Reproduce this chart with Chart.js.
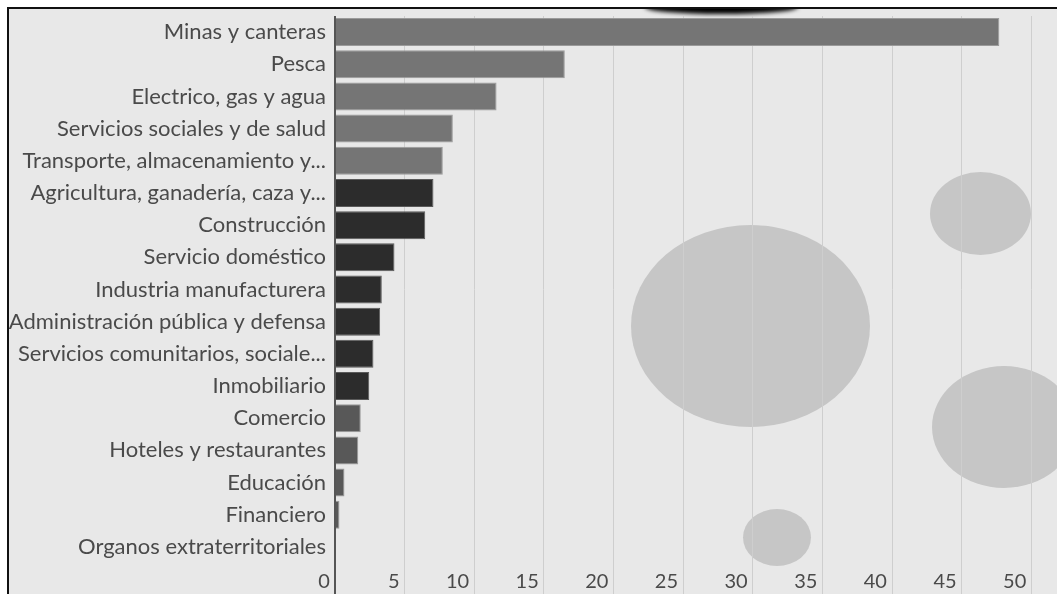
<!DOCTYPE html>
<html>
<head>
<meta charset="utf-8">
<script src="https://cdn.jsdelivr.net/npm/chart.js@4.4.1/dist/chart.umd.min.js"></script>
<style>
    html, body { margin: 0; padding: 0; background: #fff; overflow: hidden; }
    body { width: 1057px; height: 594px; position: relative; }
    .panel {
        position: absolute; left: 7px; top: 7px; width: 1100px; height: 640px;
        border-left: 2px solid #111; border-top: 2px solid #111;
        background: #e8e8e8; overflow: hidden;
    }
    .blob { position: absolute; border-radius: 50%; background: #c6c6c6; }
    .shadow {
        position: absolute; left: 636px; top: -9px; width: 153px; height: 14px;
        border-radius: 50%; background: #000; filter: blur(2px);
    }
    .chart-wrap { position: absolute; left: 0; top: 0; width: 1092px; height: 600px; }
</style>
</head>
<body>
<div class="panel">
    <div class="blob" style="left:921px; top:163px; width:101px; height:83px;"></div>
    <div class="blob" style="left:622px; top:216px; width:239px; height:202px;"></div>
    <div class="blob" style="left:923px; top:357px; width:144px; height:122px;"></div>
    <div class="blob" style="left:734px; top:500px; width:68px; height:57px;"></div>
    <div class="shadow"></div>
    <div class="chart-wrap"><canvas id="sectorChart"></canvas></div>
</div>
<script>
const sectors = [
    'Minas y canteras',
    'Pesca',
    'Electrico, gas y agua',
    'Servicios sociales y de salud',
    'Transporte, almacenamiento y...',
    'Agricultura, ganadería, caza y...',
    'Construcción',
    'Servicio doméstico',
    'Industria manufacturera',
    'Administración pública y defensa',
    'Servicios comunitarios, sociale...',
    'Inmobiliario',
    'Comercio',
    'Hoteles y restaurantes',
    'Educación',
    'Financiero',
    'Organos extraterritoriales',
];
const values = [47.7, 16.5, 11.6, 8.46, 7.74, 7.07, 6.48, 4.27, 3.36, 3.24, 2.76, 2.46, 1.85, 1.67, 0.68, 0.32, 0];
const xTicks = [0, 5, 10, 15, 20, 25, 30, 35, 40, 45, 50, 55];

// three shades, by group
const barColors = [
    '#757575', '#757575', '#757575', '#757575', '#757575',
    '#2c2c2c', '#2c2c2c', '#2c2c2c', '#2c2c2c', '#2c2c2c', '#2c2c2c', '#2c2c2c',
    '#585858', '#585858', '#585858', '#585858', '#585858',
];
const barBorders = barColors.map((c) => (c === '#2c2c2c' ? '#5a5a5a' : '#9a9a9a'));

new Chart(document.getElementById('sectorChart'), {
    type: 'bar',
    data: {
        labels: sectors,
        datasets: [
            {
                data: values,
                backgroundColor: barColors,
                borderColor: barBorders,
                borderWidth: 1,
                barPercentage: 0.87,
                categoryPercentage: 1,
            },
        ],
    },
    options: {
        indexAxis: 'y',
        responsive: true,
        maintainAspectRatio: false,
        animation: false,
        layout: { padding: { top: 7, left: 0, right: 0, bottom: 0 } },
        plugins: { legend: { display: false }, tooltip: { enabled: false } },
        scales: {
            x: {
                min: xTicks[0],
                max: xTicks[xTicks.length - 1],
                afterBuildTicks: (scale) => {
                    scale.ticks = xTicks.map((v) => ({ value: v }));
                },
                afterFit: (scale) => {
                    scale.height = 46;
                },
                border: { display: false },
                grid: {
                    color: (ctx) => (ctx.tick && ctx.tick.value === 0 ? '#555' : '#cecece'),
                    lineWidth: (ctx) => (ctx.tick && ctx.tick.value === 0 ? 2 : 1),
                    tickLength: 45,
                },
                ticks: {
                    align: 'end',
                    padding: -38,
                    color: '#4a4a4a',
                    font: { family: 'Lato', size: 20 },
                    callback: (v) => v + ' ',
                },
            },
            y: {
                afterFit: (scale) => {
                    scale.width = 326;
                    scale.paddingTop = 0;
                    scale.paddingBottom = 0;
                },
                border: { display: false },
                grid: { display: false, drawTicks: false },
                ticks: {
                    padding: 9,
                    color: '#4a4a4a',
                    font: { family: 'Lato', size: 22 },
                    autoSkip: false,
                },
            },
        },
    },
});
</script>
</body>
</html>
